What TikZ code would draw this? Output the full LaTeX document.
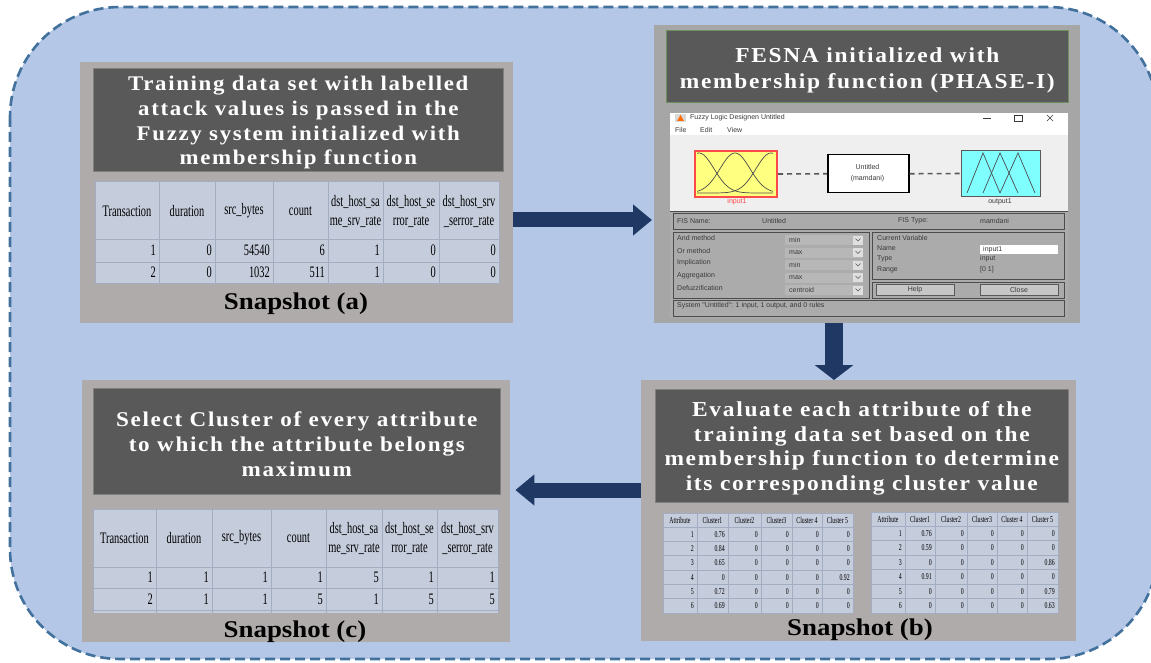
\documentclass[tikz,border=0pt]{standalone}
\usepackage{fontspec}
\setmainfont{Liberation Serif}
\newfontfamily\titlefont{Liberation Serif}[FakeStretch=1.1,LetterSpace=8]
\newfontfamily\snapfont{Liberation Serif}[FakeStretch=1.12]
\newfontfamily\tabfont{Liberation Serif}[FakeStretch=0.65]
\newfontfamily\winfont{Liberation Sans}
\usetikzlibrary{arrows.meta}

\definecolor{bgblue}{HTML}{B4C7E7}
\definecolor{bgline}{HTML}{41719C}
\definecolor{panelgrey}{HTML}{AFABAB}
\definecolor{fesnagrey}{HTML}{A6A6A6}
\definecolor{titledark}{HTML}{595959}
\definecolor{cellfill}{HTML}{C5CCDC}
\definecolor{cellline}{HTML}{A3ADC2}
\definecolor{arrowblue}{HTML}{203864}
\definecolor{winlight}{HTML}{EFEFEF}
\definecolor{winmid}{HTML}{ABABAB}
\definecolor{dropgrey}{HTML}{B7B7B7}
\definecolor{fisyellow}{HTML}{FFFF80}
\definecolor{fiscyan}{HTML}{80FFFF}
\definecolor{fisred}{HTML}{FF4A4A}
\definecolor{wintext}{HTML}{3A3A3A}
\definecolor{olivegrey}{HTML}{6F8F5F}

% grid of a data table: x0, y0, x1, y1, column lines, row lines
\newcommand\gridtab[6]{%
  \fill[cellfill] (#1,#2) rectangle (#3,#4);
  \foreach \gx in {#5} {\draw[cellline] (\gx,#2) -- (\gx,#4);}
  \foreach \gy in {#6} {\draw[cellline] (#1,\gy) -- (#3,\gy);}
}
% one row of right-aligned values: name prefix, style, y, list of xright/value
\newcommand\datarow[4]{%
  \foreach \xr/\val [count=\k] in {#4} {\node[#2, name=#1-\k] at (\xr-3,#3) {\val};}
}
% one row of centred headings: name prefix, style, y, list of xcentre/text
\newcommand\headrow[4]{%
  \foreach \xc/\val [count=\k] in {#4} {\node[#2, name=#1-\k] at (\xc,#3) {\val};}
}

\begin{document}
\begin{tikzpicture}[x=1pt,y=-1pt,
  panel/.style={fill=panelgrey, inner sep=0pt, anchor=north west},
  titlebox/.style={fill=titledark, draw=gray, line width=0.6pt, inner sep=0pt, anchor=north west},
  titletext/.style={inner sep=0pt, align=center, text=white,
    font=\titlefont\bfseries\fontsize{20.8}{24.7}\selectfont},
  snaplabel/.style={anchor=base, inner sep=0pt, font=\snapfont\bfseries\fontsize{24}{28}\selectfont},
  tabhead/.style={inner sep=0pt, align=center, font=\tabfont\fontsize{16}{19}\selectfont},
  tabcell/.style={inner sep=0pt, anchor=east, font=\tabfont\fontsize{16}{19}\selectfont},
  smallhead/.style={inner sep=0pt, font=\tabfont\fontsize{9}{10}\selectfont},
  smallcell/.style={inner sep=0pt, anchor=east, font=\tabfont\fontsize{9}{10}\selectfont},
  cellline/.style={draw=cellline, line width=1pt},
  wintxt/.style={inner sep=0pt, anchor=west, text=wintext, font=\winfont\fontsize{7}{8}\selectfont},
  grpbox/.style={draw=gray!60!black, line width=0.7pt},
  winbutton/.style={draw=gray!70!black, fill=gray!45, line width=0.5pt, inner sep=0pt,
    minimum width=78pt, minimum height=11pt, text=wintext, font=\winfont\fontsize{7}{8}\selectfont},
  mfcurve/.style={draw=black!70, line width=0.7pt},
  blockarrow/.style={draw=arrowblue, line width=15pt, -{Triangle[width=30pt,length=19pt]}},
  downarrow/.style={draw=arrowblue, line width=18pt, -{Triangle[width=38pt,length=15pt]}},
]
\useasboundingbox (0,0) rectangle (1151,663);

% background field with dashed border
\begin{scope}
  \clip (0,0) rectangle (1151,663);
  \draw[bgline, fill=bgblue, line width=2.6pt, dash pattern=on 10pt off 5pt, rounded corners=110pt]
    (10,7) rectangle (1158,659);
\end{scope}

% ---------------- panel (a)
\node[panel, minimum width=433pt, minimum height=261pt] (pa) at (80,62) {};
\node[titlebox, minimum width=410pt, minimum height=103pt] (ta) at (93,68) {};
\node[titletext] (tat) at ([yshift=-3pt]ta.center)
  {Training data set with labelled\\attack values is passed in the\\Fuzzy system initialized with\\membership function};
\gridtab{95}{182}{499}{283}{95,159,215,273,328,383,439,499}{182,239,262,283}
\headrow{ah}{tabhead}{211}{127/Transaction, 187/duration, 244/src\_bytes, 300.5/count,
  355.5/{dst\_host\_sa\\me\_srv\_rate}, 411/{dst\_host\_se\\rror\_rate}, 469/{dst\_host\_srv\\\_serror\_rate}}
\datarow{ar1}{tabcell}{250.5}{159/1, 215/0, 273/54540, 328/6, 383/1, 439/0, 499/0}
\datarow{ar2}{tabcell}{272.5}{159/2, 215/0, 273/1032, 328/511, 383/1, 439/0, 499/0}
\node[snaplabel] (sa) at (296,309) {Snapshot (a)};

% ---------------- panel FESNA
\node[panel, fill=fesnagrey, minimum width=426pt, minimum height=298pt] (pf) at (654,25) {};
\node[titlebox, draw=olivegrey, minimum width=402pt, minimum height=72pt] (tf) at (666,30) {};
\node[titletext, font=\titlefont\bfseries\fontsize{21.3}{26}\selectfont] (tft)
  at ([yshift=-4pt]tf.center) {FESNA initialized with\\membership function (PHASE-I)};

% fuzzy logic designer window
\fill[white] (670,113) rectangle (1068,135);
\fill[winlight] (670,135) rectangle (1068,211);
\fill[winmid] (670,211) rectangle (1068,318);
\draw[gray!60!black, line width=0.6pt] (670,211) -- (1068,211);
\fill[gray!30] (675,114) rectangle (686,122);
\fill[orange!85!red] (677,121) -- (680.5,115) -- (684,121) -- cycle;
\node[wintxt] (wtitle) at (690,118) {Fuzzy Logic Designen Untitled};
\draw[wintext, line width=0.6pt] (983,118) -- (991,118);
\draw[wintext, line width=0.6pt] (1014,115) rectangle (1022,121);
\draw[wintext, line width=0.6pt] (1047,115) -- (1053,121) (1047,121) -- (1053,115);
\node[wintxt] (mfile) at (675,130) {File};
\node[wintxt] (medit) at (700,130) {Edit};
\node[wintxt] (mview) at (727,130) {View};

\node[draw=fisred, line width=2pt, fill=fisyellow, minimum width=82pt, minimum height=46pt,
  inner sep=0pt, anchor=north west] (inp) at (694,150) {};
\node[draw=black, line width=1.5pt, fill=white, minimum width=81pt, minimum height=38pt,
  inner sep=0pt, anchor=north west] (fis) at (827,154) {};
\node[draw=gray!70!black, line width=1pt, fill=fiscyan, minimum width=79pt, minimum height=46pt,
  inner sep=0pt, anchor=north west] (outp) at (961,150) {};
\draw[black!65, line width=1.6pt, dash pattern=on 5pt off 4pt] (inp.east) -- (fis.west);
\draw[black!65, line width=1.6pt, dash pattern=on 5pt off 4pt] (fis.east) -- (outp.west);
\begin{scope}
  \clip (697,151) rectangle (773,195);
  \foreach \gc in {699,735,771}
    \draw[mfcurve, domain=697:773, samples=60, smooth]
      plot (\x,{193-40*exp(-0.5*((\x-\gc)/15)*((\x-\gc)/15))});
\end{scope}
\draw[mfcurve] (967,193) -- (983,153) -- (1000,193);
\draw[mfcurve] (983,193) -- (1000,153) -- (1018,193);
\draw[mfcurve] (1000,193) -- (1018,153) -- (1035,193);
\node[wintxt, anchor=center] (fisn1) at (867.5,167) {Untitled};
\node[wintxt, anchor=center] (fisn2) at (867.5,179) {(mamdani)};
\node[wintxt, anchor=center, text=fisred] (inl) at (737,202) {input1};
\node[wintxt, anchor=center] (outl) at (1000,202) {output1};

\draw[grpbox] (673,213) rectangle (1064,229);
\node[wintxt] (fisname) at (677,221) {FIS Name:};
\node[wintxt] (fisnv) at (762,221) {Untitled};
\node[wintxt] (fistype) at (898,221) {FIS Type:};
\node[wintxt] (fistv) at (980,221) {mamdani};

\draw[grpbox] (673,232) rectangle (869,298);
\foreach \i/\lab/\val in {0/And method/min, 1/Or method/max, 2/Implication/min,
                          3/Aggregation/max, 4/Defuzzification/centroid} {
  \node[wintxt, name=meth-\i] at (677,238+12.5*\i) {\lab};
  \fill[dropgrey] (785,235+12.5*\i) rectangle (863,245+12.5*\i);
  \fill[gray!25] (853,235.5+12.5*\i) rectangle (862.5,244.5+12.5*\i);
  \draw[gray!70!black, line width=0.5pt] (855.5,238.5+12.5*\i) -- (858,241+12.5*\i) -- (860.5,238.5+12.5*\i);
  \node[wintxt, name=methv-\i] at (789,240+12.5*\i) {\val};
}

\draw[grpbox] (872,232) rectangle (1064,279);
\node[wintxt] (cvar) at (877,238) {Current Variable};
\node[wintxt] (cname) at (877,248) {Name};
\node[wintxt] (ctype) at (877,259) {Type};
\node[wintxt] (crange) at (877,270) {Range};
\fill[white] (980,245) rectangle (1058,254);
\node[wintxt] (cnamev) at (983,249.5) {input1};
\node[wintxt] (ctypev) at (980,259) {input};
\node[wintxt] (crangev) at (980,270) {[0 1]};

\draw[grpbox] (872,282) rectangle (1064,298);
\node[winbutton] (help) at (915,289.5) {Help};
\node[winbutton] (close) at (1019,289.5) {Close};

\draw[grpbox] (673,300) rectangle (1064,316);
\node[wintxt] (status) at (677,306) {System "Untitled": 1 input, 1 output, and 0 rules};

% ---------------- panel (b)
\node[panel, minimum width=435pt, minimum height=261pt] (pb) at (641,380) {};
\node[titlebox, minimum width=413pt, minimum height=113pt] (tb) at (655,389) {};
\node[titletext, font=\titlefont\bfseries\fontsize{21.3}{24.7}\selectfont] (tbt)
  at ([yshift=-2.5pt]tb.center)
  {Evaluate each attribute of the\\training data set based on the\\membership function to determine\\its corresponding cluster value};

\gridtab{663}{513}{853}{613}{663,697,728,761,792,822,853}{513,527,541.33,555.67,570,584.33,598.67,613}
\headrow{bh}{smallhead}{520}{680/Attribute, 712.5/Cluster1, 744.5/Cluster2, 776.5/Cluster3, 807/Cluster 4, 837.5/Cluster 5}
\datarow{bl1}{smallcell}{534.2}{697/1, 728/0.76, 761/0, 792/0, 822/0, 853/0}
\datarow{bl2}{smallcell}{548.5}{697/2, 728/0.84, 761/0, 792/0, 822/0, 853/0}
\datarow{bl3}{smallcell}{562.8}{697/3, 728/0.65, 761/0, 792/0, 822/0, 853/0}
\datarow{bl4}{smallcell}{577.2}{697/4, 728/0, 761/0, 792/0, 822/0, 853/0.92}
\datarow{bl5}{smallcell}{591.5}{697/5, 728/0.72, 761/0, 792/0, 822/0, 853/0}
\datarow{bl6}{smallcell}{605.8}{697/6, 728/0.69, 761/0, 792/0, 822/0, 853/0}

\gridtab{871}{512}{1058}{613}{871,905,935,967,997,1027,1058}{512,526,540.5,555,569.5,584,598.5,613}
\headrow{bk}{smallhead}{519}{888/Attribute, 920/Cluster1, 951/Cluster2, 982/Cluster3, 1012/Cluster 4, 1042.5/Cluster 5}
\datarow{br1}{smallcell}{533.25}{905/1, 935/0.76, 967/0, 997/0, 1027/0, 1058/0}
\datarow{br2}{smallcell}{547.75}{905/2, 935/0.59, 967/0, 997/0, 1027/0, 1058/0}
\datarow{br3}{smallcell}{562.25}{905/3, 935/0, 967/0, 997/0, 1027/0, 1058/0.86}
\datarow{br4}{smallcell}{576.75}{905/4, 935/0.91, 967/0, 997/0, 1027/0, 1058/0}
\datarow{br5}{smallcell}{591.25}{905/5, 935/0, 967/0, 997/0, 1027/0, 1058/0.79}
\datarow{br6}{smallcell}{605.75}{905/6, 935/0, 967/0, 997/0, 1027/0, 1058/0.63}
\node[snaplabel] (sb) at (860,635) {Snapshot (b)};

% ---------------- panel (c)
\node[panel, minimum width=428pt, minimum height=262pt] (pc) at (82,380) {};
\node[titlebox, minimum width=407pt, minimum height=106pt] (tc) at (93,388) {};
\node[titletext, font=\titlefont\bfseries\fontsize{21}{24.7}\selectfont] (tct)
  at ([yshift=-3pt]tc.center)
  {Select Cluster of every attribute\\to which the attribute belongs\\maximum};
\gridtab{93}{509}{498}{613}{93,156,212,271,326,382,437,498}{509,567,588,610}
\headrow{ch}{tabhead}{538}{124.5/Transaction, 184/duration, 241.5/src\_bytes, 298.5/count,
  354/{dst\_host\_sa\\me\_srv\_rate}, 409.5/{dst\_host\_se\\rror\_rate}, 467.5/{dst\_host\_srv\\\_serror\_rate}}
\datarow{cr1}{tabcell}{577.5}{156/1, 212/1, 271/1, 326/1, 382/5, 437/1, 498/1}
\datarow{cr2}{tabcell}{599}{156/2, 212/1, 271/1, 326/5, 382/1, 437/5, 498/5}
\node[snaplabel] (sc) at (295,637) {Snapshot (c)};

% ---------------- flow arrows
\coordinate (ya) at (0,220);
\coordinate (yc) at (0,490);
\coordinate (xb) at (834,0);
\draw[blockarrow, shorten >=2pt] (pa.east |- ya) -- (pf.west |- ya);
\draw[downarrow] (xb |- pf.south) -- (xb |- pb.north);
\draw[blockarrow, shorten >=5pt] (pb.west |- yc) -- (pc.east |- yc);
\end{tikzpicture}
\end{document}
